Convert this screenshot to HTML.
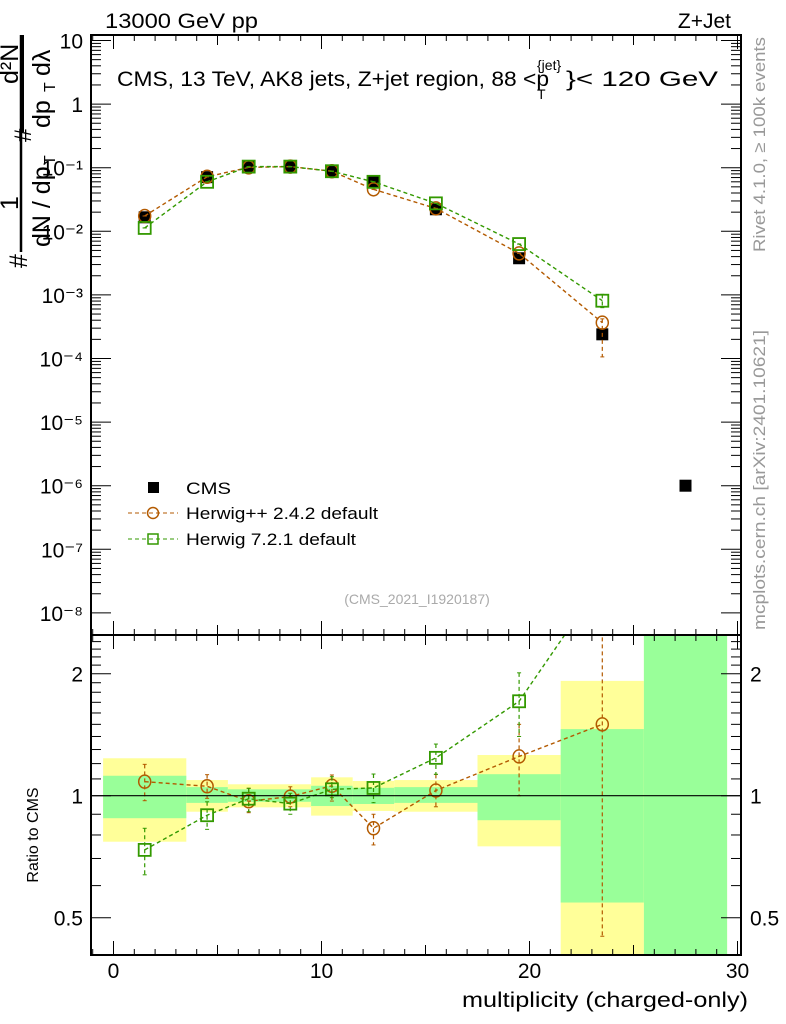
<!DOCTYPE html>
<html><head><meta charset="utf-8"><style>
body{margin:0;background:#fff;font-family:"Liberation Sans",sans-serif}
svg{display:block}
text{font-family:"Liberation Sans",sans-serif}
</style></head><body>
<svg id="chart" width="786" height="1024" viewBox="0 0 786 1024" xmlns="http://www.w3.org/2000/svg">
<g id="bands"></g>
<g id="grid"></g>
<g id="series"></g>
<g id="axes"></g>
<text x="105" y="28" font-size="21" textLength="153" lengthAdjust="spacingAndGlyphs">13000 GeV pp</text>
<text x="731" y="28" font-size="21" text-anchor="end">Z+Jet</text>
<text x="117" y="86" font-size="21" textLength="432" lengthAdjust="spacingAndGlyphs">CMS, 13 TeV, AK8 jets, Z+jet region, 88 &lt;p</text>
<text x="537" y="70" font-size="14">{jet}</text>
<text x="537" y="99" font-size="14">T</text>
<text x="566" y="86" font-size="21" textLength="152" lengthAdjust="spacingAndGlyphs">}&lt; 120 GeV</text>
<text transform="translate(765,252) rotate(-90)" font-size="17" fill="#999" textLength="215" lengthAdjust="spacingAndGlyphs">Rivet 4.1.0, ≥ 100k events</text>
<text transform="translate(765,630) rotate(-90)" font-size="17" fill="#999" textLength="300" lengthAdjust="spacingAndGlyphs">mcplots.cern.ch [arXiv:2401.10621]</text>
<text x="417" y="604" font-size="14" fill="#aaa" text-anchor="middle">(CMS_2021_I1920187)</text>
<g font-size="25">
<line x1="21" y1="35" x2="21" y2="252" stroke="#000" stroke-width="2.5"/>
<line x1="23" y1="35" x2="23" y2="132" stroke="#000" stroke-width="2"/>
<text transform="translate(18,210) rotate(-90)">1</text>
<text transform="translate(27,268) rotate(-90)">#</text>
<text transform="translate(50,247) rotate(-90)">dN / dp</text>
<text transform="translate(55,165) rotate(-90)" font-size="16">T</text>
<text transform="translate(18,84) rotate(-90)">d²N</text>
<text transform="translate(31,142) rotate(-90)" font-size="24">#</text>
<text transform="translate(50,128) rotate(-90)">dp</text>
<text transform="translate(55,92) rotate(-90)" font-size="16">T</text>
<text transform="translate(50,76) rotate(-90)">dλ</text>
</g>
<text transform="translate(38,835) rotate(-90)" font-size="16" text-anchor="middle">Ratio to CMS</text>
<text x="748" y="1007" font-size="21" text-anchor="end" textLength="286" lengthAdjust="spacingAndGlyphs">multiplicity (charged-only)</text>
<g font-size="17">
<g><rect x="148" y="482" width="11" height="11" fill="#000"/><text x="186" y="494" textLength="45" lengthAdjust="spacingAndGlyphs">CMS</text></g>
<g><line x1="128" y1="513" x2="178" y2="513" stroke="#b35a00" stroke-dasharray="4,3"/><circle cx="153" cy="513" r="5.5" fill="none" stroke="#b35a00" stroke-width="1.5"/><text x="186" y="519" textLength="192" lengthAdjust="spacingAndGlyphs">Herwig++ 2.4.2 default</text></g>
<g><line x1="128" y1="539" x2="178" y2="539" stroke="#339900" stroke-dasharray="4,3"/><rect x="148" y="534" width="10" height="10" fill="none" stroke="#339900" stroke-width="1.5"/><text x="186" y="545" textLength="170" lengthAdjust="spacingAndGlyphs">Herwig 7.2.1 default</text></g>
</g>
</svg>
<script>
const xs=[1.5,4.5,6.5,8.5,10.5,12.5,15.5,19.5,23.5,27.5];
const binLo=[-0.5,3.5,5.5,7.5,9.5,11.5,13.5,17.5,21.5,25.5];
const binHi=[3.5,5.5,7.5,9.5,11.5,13.5,17.5,21.5,25.5,29.5];
const cmsVals=[0.0166,0.071,0.101,0.104,0.087,0.060,0.0222,0.00377,0.00024,1e-6];
const hppVals=[0.0174,0.072,0.101,0.104,0.088,0.0457,0.0229,0.0045,0.000366];
const h7Vals=[0.0113,0.060,0.104,0.104,0.088,0.060,0.0275,0.0063,0.00081];
const yelHi=[1.237,1.093,1.067,1.067,1.11,1.087,1.093,1.26,1.92,3];
const yelLo=[0.77,0.913,0.936,0.936,0.893,0.917,0.913,0.75,0.3,0.3];
const grnHi=[1.12,1.05,1.037,1.037,1.058,1.046,1.05,1.13,1.46,3];
const grnLo=[0.88,0.96,0.966,0.966,0.943,0.954,0.96,0.87,0.545,0.3];
const hppRatio=[1.083,1.055,0.969,0.995,1.058,0.831,1.03,1.25,1.50];
const hppRatioHi=[1.195,1.127,1.043,1.052,1.125,0.9,1.129,1.5,3];
const hppRatioLo=[0.972,0.985,0.908,0.939,0.97,0.756,0.939,1.0,0.45];
const h7Ratio=[0.735,0.895,0.983,0.956,1.037,1.045,1.24,1.71,3.4];
const h7RatioHi=[0.831,0.966,1.043,1.014,1.114,1.131,1.341,2.01,3.6];
const h7RatioLo=[0.638,0.826,0.913,0.9,0.989,0.961,1.129,1.40,3.2];
const xTicks=[0,10,20,30];
const mainTicks=[10,1,0.1,0.01,0.001,1e-4,1e-5,1e-6,1e-7,1e-8];
const mainTickLabels=["10","1","10⁻¹","10⁻²","10⁻³","10⁻⁴","10⁻⁵","10⁻⁶","10⁻⁷","10⁻⁸"];
const ratioTicks=[0.5,1,2];
const ratioTickLabels=["0.5","1","2"];

const NS="http://www.w3.org/2000/svg";
const L=91,R=741,MT=35,MB=635,RT=635,RB=955;
const X=v=>113.5+20.8*v;
const Y=v=>167.7-63.6*(Math.log10(v)+1);
const YR=v=>795.7-122*Math.log2(v);
const YRc=v=>Math.max(RT-5,Math.min(RB+5,YR(v)));
function mk(tag,attrs,parent){const e=document.createElementNS(NS,tag);for(const k in attrs)e.setAttribute(k,attrs[k]);parent.appendChild(e);return e;}
const bands=document.getElementById('bands'),axes=document.getElementById('axes'),ser=document.getElementById('series');
const clip=mk('clipPath',{id:'rc'},document.getElementById('chart'));mk('rect',{x:L,y:RT,width:R-L,height:RB-RT},clip);
const clipM=mk('clipPath',{id:'mc'},document.getElementById('chart'));mk('rect',{x:L,y:MT,width:R-L,height:MB-MT},clipM);
bands.setAttribute('clip-path','url(#rc)');
for(let i=0;i<binLo.length;i++){
  const a=mk('rect',{x:X(binLo[i]),y:YRc(yelHi[i]),width:X(binHi[i])-X(binLo[i]),height:YRc(yelLo[i])-YRc(yelHi[i]),fill:'#ffff99'},bands);
  
  
  const b=mk('rect',{x:X(binLo[i]),y:YRc(grnHi[i]),width:X(binHi[i])-X(binLo[i]),height:YRc(grnLo[i])-YRc(grnHi[i]),fill:'#99ff99'},bands);
  
  
}
const u=mk('line',{x1:L,x2:R,y1:YR(1),y2:YR(1),stroke:'#000','stroke-width':1.2},axes);


for(const f of [[MT,MB],[RT,RB]]){mk('rect',{x:L,y:f[0],width:R-L,height:f[1]-f[0],fill:'none',stroke:'#000','stroke-width':2},axes);}
for(let v=-1;v<=30;v++){const len=(v%10===0)?14:(v%5===0?10:6);const x=X(v);if(x<L||x>R)continue;
  for(const yb of [MB,RB])mk('line',{x1:x,x2:x,y1:yb,y2:yb-len,stroke:'#000'},axes);
  for(const yt of [MT,RT])mk('line',{x1:x,x2:x,y1:yt,y2:yt+len,stroke:'#000'},axes);}
xTicks.forEach(v=>{const t=mk('text',{x:X(v),y:978,'font-size':21,'text-anchor':'middle'},axes);t.textContent=v;
  
  });
for(let d=-8;d<=1;d++){for(let m=1;m<10;m++){const v=m*Math.pow(10,d);const y=Y(v);if(y<MT||y>MB)continue;const len=m===1?20:10;
  mk('line',{x1:L,x2:L+len,y1:y,y2:y,stroke:'#000'},axes);mk('line',{x1:R,x2:R-len,y1:y,y2:y,stroke:'#000'},axes);}}
mainTicks.forEach((v,i)=>{const t=mk('text',{x:83,y:Y(v)+8,'font-size':21,'text-anchor':'end'},axes);t.textContent=mainTickLabels[i];
  
  });
for(const v of [0.5,0.6,0.7,0.8,0.9,1,1.1,1.2,1.3,1.4,1.5,1.6,1.7,1.8,1.9,2,2.1,2.2,2.3,2.4]){const y=YR(v);const len=(v===0.5||v===1||v===2)?20:10;
  mk('line',{x1:L,x2:L+len,y1:y,y2:y,stroke:'#000'},axes);mk('line',{x1:R,x2:R-len,y1:y,y2:y,stroke:'#000'},axes);}
ratioTicks.forEach((v,i)=>{for(const [x,a] of [[83,'end'],[750,'start']]){const t=mk('text',{x:x,y:YR(v)+8,'font-size':21,'text-anchor':a},axes);t.textContent=ratioTickLabels[i];
  
  }});
function drawSeries(vals,yf,col,shape,name,lo,hi,clipId){
  const g=mk('g',{'clip-path':'url(#'+clipId+')'},ser);
  
  
  const pts=vals.map((v,i)=>X(xs[i])+','+yf(v)).join(' ');
  mk('polyline',{points:pts,fill:'none',stroke:col,'stroke-width':1.4,'stroke-dasharray':'4,3'},g);
  vals.forEach((v,i)=>{const x=X(xs[i]),y=yf(v);
    if(lo&&hi){mk('line',{x1:x,x2:x,y1:yf(hi[i]),y2:yf(lo[i]),stroke:col,'stroke-width':1.2,'stroke-dasharray':'4,3'},g);
      mk('line',{x1:x-2,x2:x+2,y1:yf(hi[i]),y2:yf(hi[i]),stroke:col},g);mk('line',{x1:x-2,x2:x+2,y1:yf(lo[i]),y2:yf(lo[i]),stroke:col},g);}
    let p;
    if(shape==='c')p=mk('ellipse',{cx:x,cy:y,rx:6,ry:6.5,fill:'none',stroke:col,'stroke-width':1.5},g);
    else p=mk('rect',{x:x-6,y:y-6,width:12,height:12,fill:'none',stroke:col,'stroke-width':1.8},g);
    
    });
}
const cg=mk('g',{'clip-path':'url(#mc)'},ser);


cmsVals.forEach((v,i)=>{const r=mk('rect',{x:X(xs[i])-6,y:Y(v)-6,width:12,height:12,fill:'#000'},cg);
  
  });
drawSeries(hppVals,Y,'#b35a00','c','herwigpp-main',hppVals.map((v,i)=>i===8?1.06e-4:v),hppVals.map((v,i)=>i===8?4.2e-4:v),'mc');
drawSeries(h7Vals,Y,'#339900','s','herwig7-main',h7Vals.map((v,i)=>i===8?6.3e-4:v),h7Vals.map((v,i)=>i===8?1.02e-3:v),'mc');
drawSeries(hppRatio,YR,'#b35a00','c','herwigpp-ratio',hppRatioLo,hppRatioHi,'rc');
drawSeries(h7Ratio,YR,'#339900','s','herwig7-ratio',h7RatioLo,h7RatioHi,'rc');
</script>
</body></html>
